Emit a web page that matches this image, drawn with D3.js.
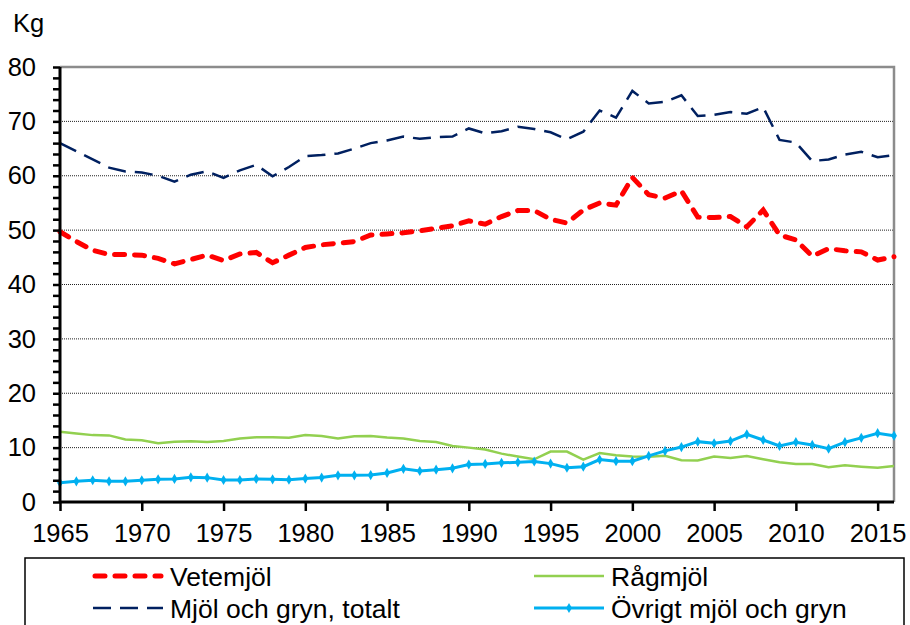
<!DOCTYPE html>
<html>
<head>
<meta charset="utf-8">
<script src="https://cdn.jsdelivr.net/npm/d3@7"></script>
<style>
  body { margin: 0; background: #fff; }
  svg { display: block; font-family: "Liberation Sans", Arial, sans-serif; }
</style>
</head>
<body>
<svg width="910" height="625"></svg>
<script>
// years 1965..2016
let years = d3.range(1965, 2017)

let vetemjol = [49.7,47.9,46.3,45.5,45.5,45.4,44.8,43.8,44.6,45.4,
                44.4,45.6,45.9,44.0,45.4,46.8,47.3,47.6,47.9,49.1,
                49.3,49.5,49.9,50.3,50.8,51.7,51.1,52.5,53.6,53.6,
                52.0,51.3,53.7,55.0,54.6,59.7,56.5,55.9,57.2,52.4,
                52.3,52.5,50.6,53.7,49.1,48.2,45.2,46.6,46.2,46.0,
                44.5,45.1]

let ragmjol = [12.9,12.6,12.3,12.25,11.5,11.35,10.8,11.1,11.15,11.05,
               11.2,11.66,11.9,11.9,11.8,12.3,12.15,11.66,12.1,12.15,
               11.85,11.66,11.2,11.05,10.3,10.0,9.65,8.9,8.35,7.85,
               9.27,9.27,7.8,9.0,8.6,8.35,8.3,8.5,7.7,7.65,
               8.35,8.1,8.47,7.86,7.3,7.0,7.0,6.4,6.75,6.5,
               6.3,6.6]

let totalt = [66.0,64.5,63.0,61.5,60.8,60.6,60.0,58.9,60.2,60.8,
              59.6,61.0,62.0,59.9,61.6,63.6,63.8,64.1,65.0,66.0,
              66.5,67.2,66.8,67.1,67.2,68.7,67.8,68.2,69.0,68.6,
              68.0,66.7,68.1,72.0,70.7,75.6,73.3,73.6,74.8,71.0,
              71.2,71.7,71.4,72.6,66.6,66.1,62.7,63.0,63.9,64.4,
              63.4,63.8]

let ovrigt = [3.56,3.8,4.0,3.8,3.8,4.0,4.17,4.24,4.54,4.48,
              4.05,4.05,4.24,4.17,4.1,4.3,4.5,4.9,4.9,4.95,
              5.34,6.1,5.7,5.95,6.2,6.9,7.0,7.2,7.3,7.45,
              7.06,6.3,6.5,7.8,7.5,7.5,8.47,9.4,10.1,11.1,
              10.8,11.2,12.45,11.4,10.3,11.0,10.5,9.8,11.0,11.8,
              12.65,12.2]

let xTicks = d3.range(1965, 2016, 5)
let yTicks = d3.range(0, 81, 2)
let gridValues = [10, 20, 30, 40, 50, 60, 70]

let seriesNames = ["Vetemjöl", "Rågmjöl", "Mjöl och gryn, totalt", "Övrigt mjöl och gryn"]

var svg = d3.select("svg")
var x = d3.scaleLinear().domain([1965, 2016]).range([60, 894])
var y = d3.scaleLinear().domain([0, 80]).range([502, 67])

// gridlines
svg.append("g").selectAll("line")
  .data(gridValues)
  .enter().append("line")
    .attr("x1", x(1965)).attr("x2", x(2016))
    .attr("y1", d => y(d)).attr("y2", d => y(d))
    .attr("stroke", "#222")
    .attr("stroke-width", 1)
    .attr("stroke-dasharray", "1,1")

// grey frame top + right
svg.append("path")
  .attr("d", `M${x(1965)},${y(80)}H${x(2016)}V${y(0)}`)
  .attr("fill", "none")
  .attr("stroke", "#8c8c8c")
  .attr("stroke-width", 2.5)

// series
var line = d3.line().x((d, i) => x(years[i])).y(d => y(d))

svg.append("path").datum(ragmjol)
  .attr("d", line).attr("fill", "none")
  .attr("stroke", "#92d050").attr("stroke-width", 2.5)

svg.append("path").datum(ovrigt)
  .attr("d", line).attr("fill", "none")
  .attr("stroke", "#00b0f0").attr("stroke-width", 3)

var diamond = d3.symbol().type(d3.symbolDiamond).size(30)
svg.append("g").selectAll("path")
  .data(ovrigt)
  .enter().append("path")
    .attr("d", diamond)
    .attr("transform", (d, i) => `translate(${x(years[i])},${y(d)})`)
    .attr("fill", "#00b0f0")

svg.append("path").datum(totalt)
  .attr("d", line).attr("fill", "none")
  .attr("stroke", "#002060").attr("stroke-width", 2.5)
  .attr("stroke-dasharray", "18,9")

svg.append("path").datum(vetemjol)
  .attr("d", line).attr("fill", "none")
  .attr("stroke", "#ff0000").attr("stroke-width", 5)
  .attr("stroke-linecap", "round")
  .attr("stroke-dasharray", "10,10")

// axes
var yAxis = d3.axisLeft(y)
  .tickValues(yTicks)
  .tickSize(7)
  .tickPadding(17)
  .tickFormat(d => d % 10 === 0 ? d : "")

var xAxis = d3.axisBottom(x)
  .tickValues(xTicks)
  .tickSize(9)
  .tickPadding(13)
  .tickFormat(d3.format("d"))

var gy = svg.append("g").attr("transform", `translate(${x(1965)},0)`).call(yAxis)
var gx = svg.append("g").attr("transform", `translate(0,${y(0)})`).call(xAxis)

;[gx, gy].forEach(g => {
  g.select(".domain").attr("stroke", "#000").attr("stroke-width", 3)
  g.selectAll(".tick line").attr("stroke", "#000").attr("stroke-width", 2.5)
  g.selectAll(".tick text")
    .attr("fill", "#000")
    .style("font-size", "25.5px")
    .style("font-family", '"Liberation Sans", Arial, sans-serif')
})
gx.select(".domain").attr("d", `M${x(1965)},0H${x(2016)}`)
gy.select(".domain").attr("d", `M0,${y(80)}V${y(0)}`)

svg.append("text")
  .attr("x", 13).attr("y", 32)
  .style("font-size", "25.5px")
  .text("Kg")

// legend
svg.append("rect")
  .attr("x", 25).attr("y", 558)
  .attr("width", 879).attr("height", 90)
  .attr("fill", "#fff")
  .attr("stroke", "#000")
  .attr("stroke-width", 1.5)

var legendPos = [[93, 576], [534, 576], [93, 608], [534, 608]]
var legendStyle = [
  {color: "#ff0000", w: 5, dash: "10,10", cap: "round"},
  {color: "#92d050", w: 2.5, dash: null, cap: "butt"},
  {color: "#002060", w: 2.5, dash: "18,9", cap: "butt"},
  {color: "#00b0f0", w: 3, dash: null, cap: "butt"}
]

var leg = svg.append("g").selectAll("g")
  .data(seriesNames)
  .enter().append("g")
    .attr("transform", (d, i) => `translate(${legendPos[i][0]},${legendPos[i][1]})`)

leg.append("line")
  .attr("x1", (d, i) => i === 0 ? 2 : 0)
  .attr("x2", (d, i) => i === 0 ? 68 : 70)
  .attr("stroke", (d, i) => legendStyle[i].color)
  .attr("stroke-width", (d, i) => legendStyle[i].w)
  .attr("stroke-dasharray", (d, i) => legendStyle[i].dash)
  .attr("stroke-linecap", (d, i) => legendStyle[i].cap)

leg.filter((d, i) => i === 3).append("path")
  .attr("d", diamond)
  .attr("transform", "translate(35,0)")
  .attr("fill", "#00b0f0")

leg.append("text")
  .attr("x", 77).attr("dy", "0.36em")
  .style("font-size", "26.5px")
  .text(d => d)
</script>
</body>
</html>
